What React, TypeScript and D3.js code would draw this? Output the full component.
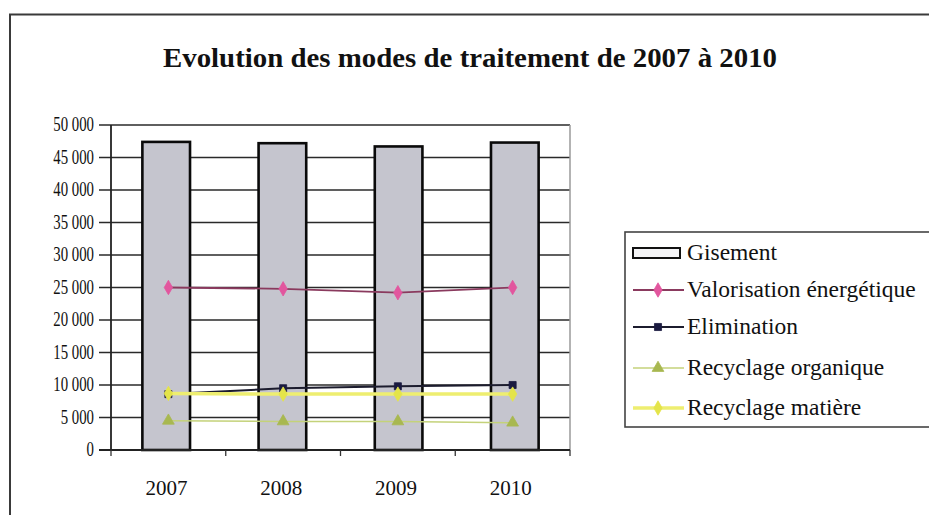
import React from "react";
import * as d3 from "d3";

const years = ["2007", "2008", "2009", "2010"];
const gisement = [47400, 47200, 46700, 47300];
const valorisation = [25000, 24800, 24200, 25000];
const elimination = [8600, 9500, 9800, 10000];
const recyclageOrganique = [4500, 4400, 4400, 4200];
const recyclageMatiere = [8700, 8600, 8600, 8600];
const yTicks = [0, 5000, 10000, 15000, 20000, 25000, 30000, 35000, 40000, 45000, 50000];
const legendLabels = ["Gisement", "Valorisation énergétique", "Elimination", "Recyclage organique", "Recyclage matière"];

const W = 929;
const H = 515;
const left = 111, right = 570, top = 125, bottom = 450;
const serif = "Liberation Serif";

const fmt = (v: number) => (v >= 1000 ? `${Math.floor(v / 1000)} ${String(v % 1000).padStart(3, "0")}` : `${v}`);

type Series = { name: string; values: number[]; line: string; lineW: number; marker: string; shape: string };

const lineSeries: Series[] = [
  { name: legendLabels[1], values: valorisation, line: "#8a3a5e", lineW: 1.8, marker: "#e2569e", shape: "diamond" },
  { name: legendLabels[2], values: elimination, line: "#1c1c2e", lineW: 2, marker: "#1a1a40", shape: "square" },
  { name: legendLabels[3], values: recyclageOrganique, line: "#c4d27a", lineW: 1.5, marker: "#a8b850", shape: "triangle" },
  { name: legendLabels[4], values: recyclageMatiere, line: "#eeee70", lineW: 3.5, marker: "#e4e44a", shape: "diamond" },
];

function Marker({ x, y, shape, color }: { x: number; y: number; shape: string; color: string }) {
  const sym = shape === "square" ? d3.symbolSquare : shape === "triangle" ? d3.symbolTriangle : d3.symbolDiamond;
  const size = shape === "square" ? 50 : 60;
  const p = d3.symbol().type(sym).size(size)() || "";
  return <path d={p} transform={`translate(${x},${y})`} fill={color} stroke={color} strokeWidth={0.8} />;
}

export default function App() {
  const x = d3.scaleBand().domain(years).range([left, right]).paddingInner(0.59).paddingOuter(0.27);
  const xc = d3.scaleBand().domain(years).range([left, right]);
  const y = d3.scaleLinear().domain([0, 50000]).range([bottom, top]);
  const line = d3
    .line<number>()
    .x((_, i) => (xc(years[i]) as number) + xc.bandwidth() / 2)
    .y((d) => y(d));

  const legendX = 625;
  const legendRows = [253, 290, 327, 368, 408];
  const tstyle = { fontFamily: serif };

  return (
    <svg width={W} height={H} style={{ position: "absolute", left: 0, top: 0, background: "#fff" }}>
      <rect x={0} y={0} width={W} height={H} fill="#fff" />
      {/* outer frame */}
      <path d={`M10,${H} V14.5 H${W}`} fill="none" stroke="#3a3a3a" strokeWidth={2} />

      <text style={tstyle} x={470} y={67} textAnchor="middle" fontSize={27} fontWeight="bold" textLength={614} lengthAdjust="spacingAndGlyphs" fill="#111">
        Evolution des modes de traitement de 2007 à 2010
      </text>

      {/* gridlines and y ticks */}
      {yTicks.map((t) => (
        <g key={t}>
          <line x1={99} x2={right} y1={y(t)} y2={y(t)} stroke="#2a2a2a" strokeWidth={1.6} />
          <text style={tstyle} transform={`translate(94,${y(t) + 6}) scale(0.74,1)`} textAnchor="end" fontSize={20} fill="#111">
            {fmt(t)}
          </text>
        </g>
      ))}
      <line x1={right} x2={right} y1={top} y2={bottom} stroke="#9a9a9a" strokeWidth={1.5} />

      {/* bars */}
      {years.map((yr, i) => (
        <rect
          key={yr}
          x={x(yr)}
          y={y(gisement[i])}
          width={x.bandwidth()}
          height={bottom - y(gisement[i])}
          fill="#c5c5ce"
          stroke="#0a0a0a"
          strokeWidth={2.6}
        />
      ))}

      {/* axes */}
      <line x1={left} x2={left} y1={top} y2={bottom} stroke="#222" strokeWidth={1.8} />
      <line x1={left - 12} x2={right} y1={bottom} y2={bottom} stroke="#222" strokeWidth={2} />
      {years.concat(["end"]).map((_, i) => {
        const tx = left + i * xc.step();
        return <line key={i} x1={tx} x2={tx} y1={bottom} y2={bottom + 6} stroke="#333" strokeWidth={1.3} />;
      })}
      {years.map((yr) => (
        <text style={tstyle} key={yr} x={(xc(yr) as number) + xc.bandwidth() / 2 - 2} y={495} textAnchor="middle" fontSize={21} fill="#111">
          {yr}
        </text>
      ))}

      {/* line series */}
      {lineSeries.map((s) => (
        <g key={s.name}>
          <path d={line(s.values) || ""} fill="none" stroke={s.line} strokeWidth={s.lineW} />
          {s.values.map((v, i) => (
            <Marker key={i} x={(xc(years[i]) as number) + xc.bandwidth() / 2} y={y(v)} shape={s.shape} color={s.marker} />
          ))}
        </g>
      ))}

      {/* legend */}
      <rect x={legendX} y={232} width={W - legendX + 10} height={195} fill="#fff" stroke="#444" strokeWidth={1.6} />
      <rect x={633} y={legendRows[0] - 5} width={47} height={10} fill="#f4f4f6" stroke="#111" strokeWidth={2} />
      {lineSeries.map((s, i) => (
        <g key={s.name}>
          <line x1={633} x2={684} y1={legendRows[i + 1]} y2={legendRows[i + 1]} stroke={s.line} strokeWidth={s.lineW} />
          <Marker x={658} y={legendRows[i + 1]} shape={s.shape} color={s.marker} />
        </g>
      ))}
      {legendLabels.map((l, i) => (
        <text style={tstyle} key={l} x={687} y={legendRows[i] + 7} fontSize={23.5} fill="#111">
          {l}
        </text>
      ))}
    </svg>
  );
}
